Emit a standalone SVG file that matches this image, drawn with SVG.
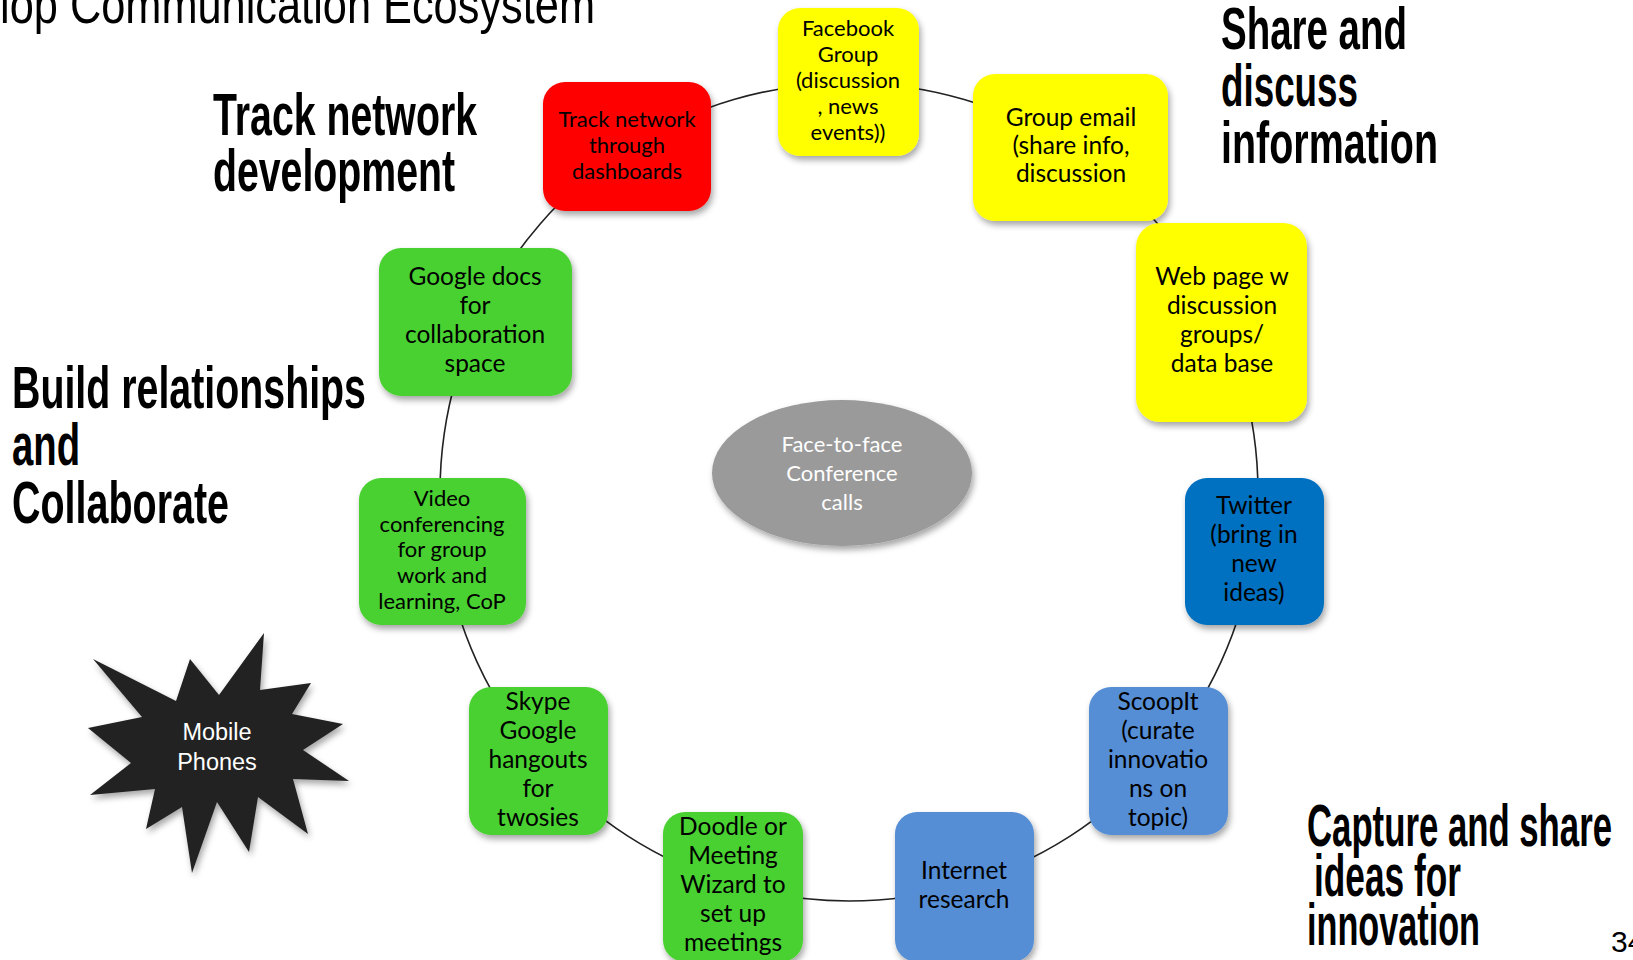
<svg xmlns="http://www.w3.org/2000/svg" width="1633" height="960" viewBox="0 0 1633 960">
<defs>
<filter id="sh" x="-20%" y="-20%" width="150%" height="150%">
<feDropShadow dx="2" dy="4" stdDeviation="3" flood-color="#000" flood-opacity="0.35"/>
</filter>
<style>
.hd{font-family:"Liberation Sans",Arial,sans-serif;font-weight:bold;font-size:60px;fill:#000}
.tt{font-family:"Liberation Sans",Arial,sans-serif;font-size:54px;fill:#000}
.n{font-family:Lato,"Open Sans",sans-serif;text-anchor:middle;fill:#000}
.s20{font-size:22px}
.s23{font-size:24.5px}
.w{fill:#fff}
.box{filter:url(#sh)}
.yl{fill:#ffff00}
.rd{fill:#ff0000}
.gr{fill:#4ad130}
.db{fill:#0070c0}
.lb{fill:#558ed5}
.conn path{fill:none;stroke:#222;stroke-width:1.6}
</style>
</defs>
<rect width="1633" height="960" fill="#fff"/>
<text class="tt" x="0" y="23" textLength="595" lengthAdjust="spacingAndGlyphs">lop Communication Ecosystem</text>
<g id="headings">
<text class="hd" x="213" y="135" textLength="264" lengthAdjust="spacingAndGlyphs">Track network</text>
<text class="hd" x="213" y="191" textLength="242" lengthAdjust="spacingAndGlyphs">development</text>
<text class="hd" x="1221" y="49" textLength="186" lengthAdjust="spacingAndGlyphs">Share and</text>
<text class="hd" x="1221" y="106" textLength="137" lengthAdjust="spacingAndGlyphs">discuss</text>
<text class="hd" x="1221" y="163" textLength="217" lengthAdjust="spacingAndGlyphs">information</text>
<text class="hd" x="12" y="408" textLength="354" lengthAdjust="spacingAndGlyphs">Build relationships</text>
<text class="hd" x="12" y="465" textLength="68" lengthAdjust="spacingAndGlyphs">and</text>
<text class="hd" x="12" y="523" textLength="217" lengthAdjust="spacingAndGlyphs">Collaborate</text>
<text class="hd" x="1307" y="846" textLength="305" lengthAdjust="spacingAndGlyphs">Capture and share</text>
<text class="hd" x="1314" y="896" textLength="147" lengthAdjust="spacingAndGlyphs">ideas for</text>
<text class="hd" x="1307" y="945" textLength="173" lengthAdjust="spacingAndGlyphs">innovation</text>
</g>
<text x="1611" y="952" font-family="Liberation Sans,Arial,sans-serif" font-size="30">34</text>
<g id="connectors" class="conn">
<path d="M849,83 A409,409 0 0 1 1070.1,147.9"/>
<path d="M1070.1,147.9 A409,409 0 0 1 1221,322.1"/>
<path d="M1221,322.1 A409,409 0 0 1 1253.8,550.2"/>
<path d="M1253.8,550.2 A409,409 0 0 1 1158.1,759.9"/>
<path d="M1158.1,759.9 A409,409 0 0 1 964.2,884.4"/>
<path d="M964.2,884.4 A409,409 0 0 1 733.8,884.4"/>
<path d="M733.8,884.4 A409,409 0 0 1 539.9,759.9"/>
<path d="M539.9,759.9 A409,409 0 0 1 444.2,550.2"/>
<path d="M444.2,550.2 A409,409 0 0 1 477,322.1"/>
<path d="M477,322.1 A409,409 0 0 1 627.9,147.9"/>
<path d="M627.9,147.9 A409,409 0 0 1 849,83"/>
</g>
<g id="facebook">
<rect class="box yl" x="778" y="8" width="141" height="148" rx="22"/>
<text class="n s20"><tspan x="848" y="36">Facebook</tspan><tspan x="848" y="62">Group</tspan><tspan x="848" y="88">(discussion</tspan><tspan x="848" y="114">, news</tspan><tspan x="848" y="140">events))</tspan></text>
</g>
<g id="groupemail">
<rect class="box yl" x="973" y="74" width="195" height="147" rx="22"/>
<text class="n s23"><tspan x="1071" y="126">Group email</tspan><tspan x="1071" y="154">(share info,</tspan><tspan x="1071" y="182">discussion</tspan></text>
</g>
<g id="webpage">
<rect class="box yl" x="1136" y="223" width="171" height="199" rx="24"/>
<text class="n s23"><tspan x="1222" y="285">Web page w</tspan><tspan x="1222" y="314">discussion</tspan><tspan x="1222" y="343">groups/</tspan><tspan x="1222" y="372">data base</tspan></text>
</g>
<g id="twitter">
<rect class="box db" x="1185" y="478" width="139" height="147" rx="22"/>
<text class="n s23"><tspan x="1254" y="514">Twitter</tspan><tspan x="1254" y="543">(bring in</tspan><tspan x="1254" y="572">new</tspan><tspan x="1254" y="601">ideas)</tspan></text>
</g>
<g id="scoopit">
<rect class="box lb" x="1089" y="687" width="139" height="148" rx="22"/>
<text class="n s23"><tspan x="1158" y="710">ScoopIt</tspan><tspan x="1158" y="739">(curate</tspan><tspan x="1158" y="768">innovatio</tspan><tspan x="1158" y="797">ns on</tspan><tspan x="1158" y="826">topic)</tspan></text>
</g>
<g id="internet">
<rect class="box lb" x="895" y="812" width="139" height="150" rx="22"/>
<text class="n s23"><tspan x="964" y="879">Internet</tspan><tspan x="964" y="908">research</tspan></text>
</g>
<g id="doodle">
<rect class="box gr" x="663" y="812" width="140" height="150" rx="22"/>
<text class="n s23"><tspan x="733" y="835">Doodle or</tspan><tspan x="733" y="864">Meeting</tspan><tspan x="733" y="893">Wizard to</tspan><tspan x="733" y="922">set up</tspan><tspan x="733" y="951">meetings</tspan></text>
</g>
<g id="skype">
<rect class="box gr" x="469" y="687" width="139" height="148" rx="22"/>
<text class="n s23"><tspan x="538" y="710">Skype</tspan><tspan x="538" y="739">Google</tspan><tspan x="538" y="768">hangouts</tspan><tspan x="538" y="797">for</tspan><tspan x="538" y="826">twosies</tspan></text>
</g>
<g id="video">
<rect class="box gr" x="359" y="478" width="167" height="147" rx="22"/>
<text class="n s20"><tspan x="442" y="506">Video</tspan><tspan x="442" y="532">conferencing</tspan><tspan x="442" y="557">for group</tspan><tspan x="442" y="583">work and</tspan><tspan x="442" y="609">learning, CoP</tspan></text>
</g>
<g id="googledocs">
<rect class="box gr" x="379" y="248" width="193" height="148" rx="22"/>
<text class="n s23"><tspan x="475" y="285">Google docs</tspan><tspan x="475" y="314">for</tspan><tspan x="475" y="343">collaboration</tspan><tspan x="475" y="372">space</tspan></text>
</g>
<g id="track">
<rect class="box rd" x="543" y="82" width="168" height="129" rx="22"/>
<text class="n s20"><tspan x="627" y="127">Track network</tspan><tspan x="627" y="153">through</tspan><tspan x="627" y="179">dashboards</tspan></text>
</g>
<g id="facetoface">
<ellipse class="box" cx="842" cy="473" rx="130" ry="73" fill="#9a9a9a"/>
<text class="n w" font-size="22"><tspan x="842" y="452">Face-to-face</tspan><tspan x="842" y="481">Conference</tspan><tspan x="842" y="510">calls</tspan></text>
</g>
<g id="mobile">
<polygon class="box" fill="#222" points="264,633 260,690 311,683 292,714 343,724 303,750 349,781 293,779 308,834 258,797 249,852 217,802 192,873 182,807 146,829 155,789 90,795 131,763 88,728 142,717 93,659 176,701 190,659 219,695"/>
<text font-family="Liberation Sans,Arial,sans-serif" font-size="23.5" fill="#fff" text-anchor="middle"><tspan x="217" y="740">Mobile</tspan><tspan x="217" y="770">Phones</tspan></text>
</g>
</svg>
